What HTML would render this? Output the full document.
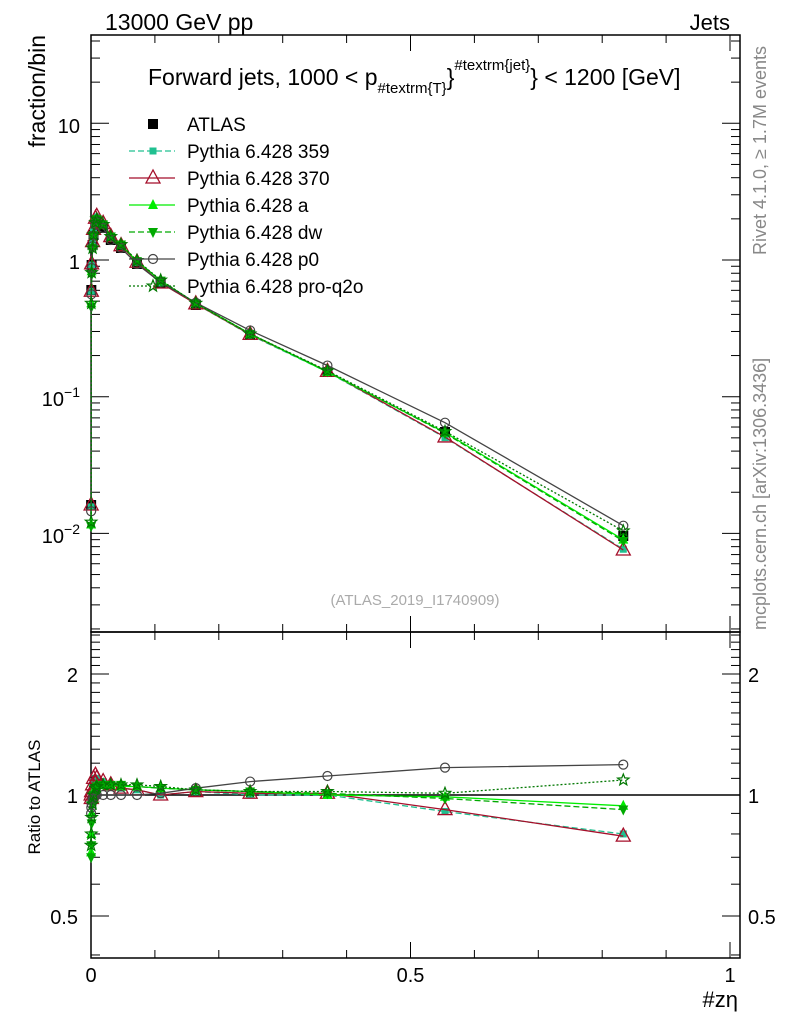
<!DOCTYPE html>
<html><head><meta charset="utf-8"><style>
html,body{margin:0;padding:0;background:#fff;}
svg{display:block;font-family:"Liberation Sans",sans-serif;}
</style></head><body>
<svg id="s" width="786" height="1024" viewBox="0 0 786 1024" xmlns="http://www.w3.org/2000/svg">
<rect width="786" height="1024" fill="#fff"/>
<text x="105" y="30" font-size="23">13000 GeV pp</text>
<text x="730" y="30" font-size="22" text-anchor="end">Jets</text>
<text x="148" y="85" font-size="23">Forward jets, 1000 &lt; p<tspan font-size="15" dy="8">#textrm{T}</tspan><tspan font-size="23" dy="-8">}</tspan><tspan font-size="15" dy="-15">#textrm{jet}</tspan><tspan font-size="23" dy="15">} &lt; 1200 [GeV]</tspan></text>
<text transform="translate(45,35) rotate(-90)" font-size="23" text-anchor="end">fraction/bin</text>
<text transform="translate(40,797) rotate(-90)" font-size="17" text-anchor="middle">Ratio to ATLAS</text>
<text transform="translate(766,255) rotate(-90)" font-size="18" fill="#888">Rivet 4.1.0, ≥ 1.7M events</text>
<text transform="translate(766,630) rotate(-90)" font-size="18" fill="#888">mcplots.cern.ch [arXiv:1306.3436]</text>
<text x="415" y="605" font-size="15" fill="#aaa" text-anchor="middle">(ATLAS_2019_I1740909)</text>
<text x="738" y="1007" font-size="22" text-anchor="end">#zη</text>
<g id="g"></g>
</svg>
<script>
var NS="http://www.w3.org/2000/svg",g=document.getElementById('g');
function el(t,a,txt){var e=document.createElementNS(NS,t);for(var k in a)e.setAttribute(k,a[k]);if(txt)e.textContent=txt;g.appendChild(e);return e;}
var L=91,R=740,X=function(x){return 91+639*x;};
var MT=35,MB=632,BT=632,BB=958;
var My=function(v){return 260-136.7*Math.log10(v);};
var Ry=function(r){return 795-402*Math.log10(r);};
el('rect',{x:L,y:MT,width:R-L,height:MB-MT,fill:'none',stroke:'#000','stroke-width':1.5});
el('rect',{x:L,y:BT,width:R-L,height:BB-BT,fill:'none',stroke:'#000','stroke-width':1.5});
for(var i=0;i<=10;i++){var x=X(i*0.1),len=(i%5==0)?16:8;
 [[MB,-1],[BB,-1],[MT,1],[BT,1]].forEach(function(p){el('line',{x1:x,x2:x,y1:p[0],y2:p[0]+p[1]*len,stroke:'#000'});});}
[["0",0],["0.5",0.5],["1",1]].forEach(function(t){el('text',{x:X(t[1]),y:982,'font-size':20,'text-anchor':'middle'},t[0]);});
for(var d=-3;d<=1;d++){for(var m=1;m<=9;m++){var v=m*Math.pow(10,d),y=My(v);if(y<MT||y>MB)continue;var len=m==1?18:9;
 el('line',{x1:L,x2:L+len,y1:y,y2:y,stroke:'#000'});el('line',{x1:R,x2:R-len,y1:y,y2:y,stroke:'#000'});}}
el('text',{x:80,y:133,'font-size':20,'text-anchor':'end'},'10');
el('text',{x:80,y:269,'font-size':20,'text-anchor':'end'},'1');
var t1=el('text',{x:80,y:406,'font-size':20,'text-anchor':'end'});t1.innerHTML='10<tspan dy="-9" font-size="14">−1</tspan>';
var t2=el('text',{x:80,y:543,'font-size':20,'text-anchor':'end'});t2.innerHTML='10<tspan dy="-9" font-size="14">−2</tspan>';
[0.4,0.5,0.6,0.7,0.8,0.9,1,1.1,1.2,1.3,1.4,1.5,1.6,1.7,1.8,1.9,2,2.1,2.2,2.3,2.4,2.5].forEach(function(r){var y=Ry(r);if(y<BT||y>BB)return;var big=(r==0.5||r==1||r==2);var len=big?18:9;
 el('line',{x1:L,x2:L+len,y1:y,y2:y,stroke:'#000'});el('line',{x1:R,x2:R-len,y1:y,y2:y,stroke:'#000'});});
[["2",2],["1",1],["0.5",0.5]].forEach(function(t){var y=Ry(t[1])+8;el('text',{x:78,y:y,'font-size':20,'text-anchor':'end'},t[0]);el('text',{x:748,y:y,'font-size':20},t[0]);});
el('line',{x1:L,x2:R,y1:Ry(1),y2:Ry(1),stroke:'#000','stroke-width':1.5});
var xs=[0.0002,0.0005,0.001,0.0025,0.004,0.007,0.009,0.019,0.031,0.047,0.072,0.109,0.164,0.249,0.370,0.554,0.833];
var apx=[505,290,265,245,235,225,222,228,240,248,264,283,305,335,372,432,536];
var atl=apx.map(function(y){return Math.pow(10,(260-y)/136.7);});
var S=[
 {c:'#20c090',d:'6,3',m:'sq',r:[0.97,0.98,1.0,1.05,1.08,1.1,1.09,1.08,1.06,1.04,1.03,1.0,1.02,1.0,1.0,0.91,0.8]},
 {c:'#a50f2a',d:'',m:'tri',r:[1.0,0.98,1.02,1.06,1.1,1.12,1.1,1.08,1.06,1.04,1.03,1.0,1.02,1.01,1.01,0.92,0.79]},
 {c:'#00ee00',d:'',m:'trs',r:[0.72,0.8,0.9,0.98,1.02,1.05,1.06,1.06,1.06,1.05,1.05,1.04,1.03,1.02,1.0,0.99,0.94]},
 {c:'#00aa00',d:'6,3',m:'dtri',r:[0.7,0.75,0.85,0.95,1.0,1.04,1.05,1.06,1.06,1.06,1.05,1.04,1.03,1.02,1.01,0.98,0.92]},
 {c:'#444',d:'',m:'circ',r:[0.9,0.93,0.95,0.98,0.99,1.0,1.0,1.0,1.0,1.0,1.0,1.01,1.04,1.08,1.115,1.17,1.19]},
 {c:'#007700',d:'2,2',m:'star',r:[0.75,0.8,0.88,0.95,1.0,1.04,1.05,1.06,1.06,1.06,1.06,1.05,1.03,1.02,1.02,1.01,1.09]}
];
function marker(t,x,y,c){
 if(t=='sq')el('rect',{x:x-3.5,y:y-3.5,width:7,height:7,fill:c});
 else if(t=='bsq')el('rect',{x:x-5,y:y-5,width:10,height:10,fill:'#000'});
 else if(t=='tri')el('polygon',{points:(x)+','+(y-8)+' '+(x-7)+','+(y+5)+' '+(x+7)+','+(y+5),fill:'none',stroke:c,'stroke-width':1.3});
 else if(t=='trs')el('polygon',{points:(x)+','+(y-6)+' '+(x-5)+','+(y+4)+' '+(x+5)+','+(y+4),fill:c});
 else if(t=='dtri')el('polygon',{points:(x)+','+(y+6)+' '+(x-5)+','+(y-4)+' '+(x+5)+','+(y-4),fill:c});
 else if(t=='circ')el('circle',{cx:x,cy:y,r:4.5,fill:'none',stroke:c,'stroke-width':1.2});
 else if(t=='star'){var p=[];for(var i=0;i<10;i++){var a=-Math.PI/2+i*Math.PI/5,rr=i%2?2.5:6;p.push((x+rr*Math.cos(a)).toFixed(1)+','+(y+rr*Math.sin(a)).toFixed(1));}el('polygon',{points:p.join(' '),fill:'none',stroke:c,'stroke-width':1.2});}
}
atl.forEach(function(v,i){marker('bsq',X(xs[i]),My(v));});
S.forEach(function(s){
 var pm=[],pr=[];
 xs.forEach(function(x,i){pm.push(X(x).toFixed(1)+','+My(atl[i]*s.r[i]).toFixed(1));pr.push(X(x).toFixed(1)+','+Ry(s.r[i]).toFixed(1));});
 var a={fill:'none',stroke:s.c,'stroke-width':1.3};if(s.d)a['stroke-dasharray']=s.d;
 a.points=pm.join(' ');el('polyline',a);
 var b=Object.assign({},a);b.points=pr.join(' ');el('polyline',b);
 xs.forEach(function(x,i){marker(s.m,X(x),My(atl[i]*s.r[i]),s.c);marker(s.m,X(x),Ry(s.r[i]),s.c);});
});
var names=['Pythia 6.428 359','Pythia 6.428 370','Pythia 6.428 a','Pythia 6.428 dw','Pythia 6.428 p0','Pythia 6.428 pro-q2o'];
marker('bsq',153,124);el('text',{x:187,y:131,'font-size':19},'ATLAS');
S.forEach(function(s,i){var y=151+27*i;var a={x1:129,x2:175,y1:y,y2:y,stroke:s.c,'stroke-width':1.3};if(s.d)a['stroke-dasharray']=s.d;el('line',a);
 marker(s.m,153,y,s.c);el('text',{x:187,y:y+7,'font-size':19},names[i]);});
</script>
</body></html>
